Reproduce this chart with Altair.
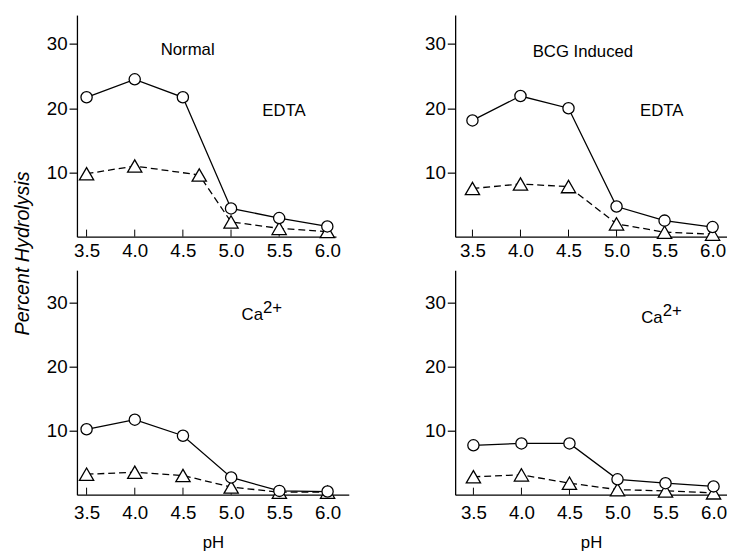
import altair as alt
import pandas as pd

FONT = "Liberation Sans"

ph = [3.5, 4.0, 4.5, 5.0, 5.5, 6.0]
y_ticks = [10, 20, 30]

# Normal, EDTA
normal_edta_circle = [21.7, 24.5, 21.7, 4.4, 2.9, 1.6]
normal_edta_tri_ph = [3.5, 4.0, 4.67, 5.0, 5.5, 6.0]
normal_edta_tri = [9.8, 11.0, 9.6, 2.3, 1.3, 0.8]
# BCG induced, EDTA
bcg_edta_circle = [18.1, 21.9, 20.0, 4.7, 2.5, 1.5]
bcg_edta_tri = [7.5, 8.2, 7.8, 2.0, 0.7, 0.4]
# Normal, Ca2+
normal_ca_circle = [10.2, 11.7, 9.2, 2.7, 0.6, 0.5]
normal_ca_tri = [3.2, 3.5, 3.0, 1.2, 0.4, 0.4]
# BCG induced, Ca2+
bcg_ca_circle = [7.7, 8.0, 8.0, 2.4, 1.8, 1.3]
bcg_ca_tri = [2.8, 3.1, 1.8, 0.8, 0.6, 0.3]


def panel(circ, tri_ph, tri, texts, xdom, ydom, w, h, xtitle, lpad):
    xs = alt.Scale(domain=xdom, nice=False, zero=False)
    ys = alt.Scale(domain=ydom, nice=False)
    xax = alt.Axis(values=ph, format=".1f", ticks=False, title=xtitle,
                   labelFontSize=19, labelPadding=lpad, titleFontSize=17,
                   titleFontWeight="normal", titlePadding=13, labelFlush=False)
    yax = alt.Axis(values=y_ticks, title=None, tickSize=8, labelFontSize=19,
                   labelPadding=2)
    dc = pd.DataFrame({"ph": ph, "v": circ})
    dt = pd.DataFrame({"ph": tri_ph, "v": tri})
    dtick = pd.DataFrame({"ph": ph})
    one = pd.DataFrame({"k": [0]})
    X = alt.X("ph:Q", scale=xs, axis=xax)
    Y = alt.Y("v:Q", scale=ys, axis=yax)
    ticks = alt.Chart(dtick).mark_rule(color="black", strokeWidth=1).encode(
        x=X, y=alt.datum(0, scale=ys), y2=alt.datum(1.1)
    )
    line_c = alt.Chart(dc).mark_line(color="black", strokeWidth=1.3).encode(x=X, y=Y)
    line_t = alt.Chart(dt).mark_line(color="black", strokeWidth=1.3,
                                     strokeDash=[7, 4]).encode(x=X, y=Y)
    pts_t = alt.Chart(dt).mark_point(shape="triangle-up", filled=True, fill="white",
                                     stroke="black", strokeWidth=1.3, size=210,
                                     opacity=1).encode(x=X, y=Y)
    pts_c = alt.Chart(dc).mark_point(shape="circle", filled=True, fill="white",
                                     stroke="black", strokeWidth=1.3, size=130,
                                     opacity=1).encode(x=X, y=Y)
    layers = [ticks, line_c, line_t, pts_t, pts_c]
    for (t, tx, ty, align, dy, fs) in texts:
        layers.append(
            alt.Chart(one).mark_text(text=t, font=FONT, fontSize=fs, align=align,
                                     fontWeight="normal", baseline="middle", dy=dy,
                                     color="black").encode(
                x=alt.datum(tx, scale=xs), y=alt.datum(ty, scale=ys))
        )
    return alt.layer(*layers).properties(width=w, height=h)


p1 = panel(normal_edta_circle, normal_edta_tri_ph, normal_edta_tri,
           [("Normal", 4.55, 29.1, "center", 0, 17), ("EDTA", 5.55, 19.6, "center", 0, 17)],
           [3.40, 6.09], [0, 34.5], 263, 225, None, 5)
p2 = panel(bcg_edta_circle, ph, bcg_edta_tri,
           [("BCG  Induced", 4.65, 28.8, "center", 0, 17), ("EDTA", 5.47, 19.6, "center", 0, 17)],
           [3.32, 6.15], [0, 34.5], 276, 225, None, 5)
p3 = panel(normal_ca_circle, ph, normal_ca_tri,
           [("Ca", 5.33, 28.0, "right", 0, 17), ("2+", 5.33, 28.0, "left", -7, 17)],
           [3.40, 6.22], [0, 35], 276, 228, "pH", 9)
p4 = panel(bcg_ca_circle, ph, bcg_ca_tri,
           [("Ca", 5.47, 27.5, "right", 0, 17), ("2+", 5.47, 27.5, "left", -7, 17)],
           [3.31, 6.14], [0, 35], 276, 228, "pH", 9)

row1 = alt.hconcat(p1, p2, spacing=84)
row2 = alt.hconcat(p3, p4, spacing=76)

chart = alt.vconcat(row1, row2, spacing=10).properties(
    title=alt.TitleParams("Percent Hydrolysis", orient="left", anchor="middle",
                          font=FONT, fontSize=20, fontStyle="italic",
                          fontWeight="normal", offset=14, dx=30),
    padding={"left": 4, "top": 3, "right": 0, "bottom": 0},
).configure_view(stroke=None).configure_axis(
    grid=False, domainColor="black", tickColor="black", labelColor="black",
    titleColor="black", labelFont=FONT, titleFont=FONT, domainWidth=1.3,
    tickWidth=1.2
)

chart.save("out.html", embed_options={"renderer": "svg", "actions": False})
